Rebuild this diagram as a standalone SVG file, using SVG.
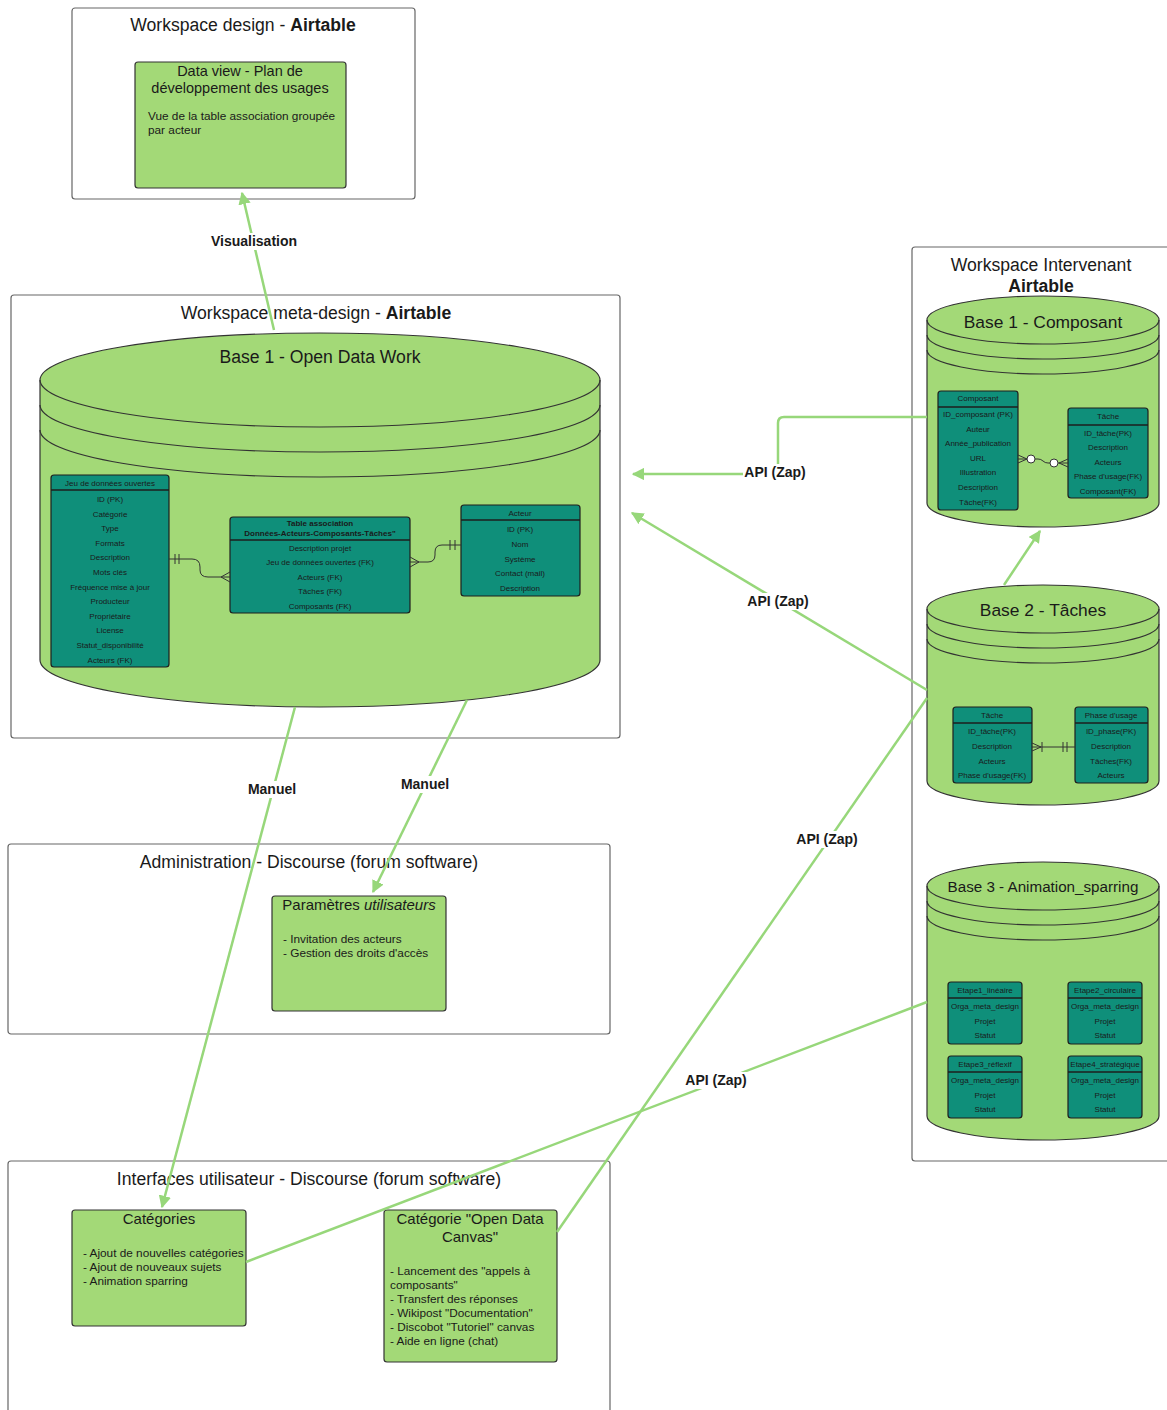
<svg xmlns="http://www.w3.org/2000/svg" width="1167" height="1410" viewBox="0 0 1167 1410">
<defs>
<style>
.cont{fill:#fff;stroke:#666;stroke-width:1.2}
.box{fill:#a3d977;stroke:#333;stroke-width:1.2}
.cyl{fill:#a3d977;stroke:#333;stroke-width:1.2}
.band{fill:none;stroke:#333;stroke-width:1.2}
.tbl{fill:#0f8f7a;stroke:#1e1e1e;stroke-width:1.2}
.sep{stroke:#1e1e1e;stroke-width:1.5}
.t{font-family:"Liberation Sans",Arial,sans-serif;fill:#1a1a1a}
.title{font-size:17.6px}
.cyt{font-size:17.4px}
.bt{font-size:14.5px}
.bb{font-size:11.8px}
.tt{font-size:8px;text-anchor:middle}
.lbl{font-size:14px;font-weight:bold;text-anchor:middle}
.g{fill:none;stroke:#97d77a;stroke-width:2.5}
.rel{fill:none;stroke:#333;stroke-width:1}
</style>
<marker id="ah" viewBox="0 0 10 10" refX="9" refY="5" markerWidth="5" markerHeight="5" orient="auto-start-reverse" markerUnits="strokeWidth">
<path d="M0,0 L10,5 L0,10 Z" fill="#97d77a"/>
</marker>
</defs>

<g id="ws-design">
<rect class="cont" x="72" y="8" width="343" height="191" rx="3"/>
<text class="t title" x="243" y="31" text-anchor="middle">Workspace design - <tspan font-weight="bold">Airtable</tspan></text>
</g>
<g id="dataview">
<rect class="box" x="135" y="62" width="211" height="126" rx="3"/>
<text class="t bt" x="240" y="76" text-anchor="middle">Data view - Plan de</text>
<text class="t bt" x="240" y="93" text-anchor="middle">développement des usages</text>
<text class="t bb" x="148" y="120">Vue de la table association groupée</text>
<text class="t bb" x="148" y="134">par acteur</text>
</g>

<g id="ws-meta">
<rect class="cont" x="11" y="295" width="609" height="443" rx="3"/>
<text class="t title" x="316" y="319" text-anchor="middle">Workspace meta-design - <tspan font-weight="bold">Airtable</tspan></text>
</g>

<g id="base1-odw">
<path class="cyl" d="M40,380 A280,47 0 0,1 600,380 V660 A280,47 0 0,1 40,660 Z"/>
<path class="band" d="M40,380 A280,47 0 0,0 600,380"/>
<path class="band" d="M40,405 A280,47 0 0,0 600,405"/>
<path class="band" d="M40,430 A280,47 0 0,0 600,430"/>
<text class="t" font-size="17.6" x="320" y="363" text-anchor="middle">Base 1 - Open Data Work</text>
</g>

<g id="tbl-jeu">
<rect class="tbl" x="51" y="475" width="118" height="192" rx="3"/>
<line class="sep" x1="51" y1="490" x2="169" y2="490"/>
<text class="t tt" x="110" y="486">Jeu de données ouvertes</text>
<text class="t tt" x="110" y="502">ID (PK)</text>
<text class="t tt" x="110" y="517">Catégorie</text>
<text class="t tt" x="110" y="531">Type</text>
<text class="t tt" x="110" y="546">Formats</text>
<text class="t tt" x="110" y="560">Description</text>
<text class="t tt" x="110" y="575">Mots clés</text>
<text class="t tt" x="110" y="590">Fréquence mise à jour</text>
<text class="t tt" x="110" y="604">Producteur</text>
<text class="t tt" x="110" y="619">Propriétaire</text>
<text class="t tt" x="110" y="633">License</text>
<text class="t tt" x="110" y="648">Statut_disponibilité</text>
<text class="t tt" x="110" y="663">Acteurs (FK)</text>
</g>

<g id="tbl-assoc">
<rect class="tbl" x="230" y="517" width="180" height="96" rx="3"/>
<line class="sep" x1="230" y1="540" x2="410" y2="540"/>
<text class="t tt" x="320" y="526" font-weight="bold">Table association</text>
<text class="t tt" x="320" y="536" font-weight="bold">Données-Acteurs-Composants-Tâches"</text>
<text class="t tt" x="320" y="551">Description projet</text>
<text class="t tt" x="320" y="565">Jeu de données ouvertes (FK)</text>
<text class="t tt" x="320" y="580">Acteurs (FK)</text>
<text class="t tt" x="320" y="594">Tâches (FK)</text>
<text class="t tt" x="320" y="609">Composants (FK)</text>
</g>

<g id="tbl-acteur">
<rect class="tbl" x="461" y="505" width="119" height="91" rx="3"/>
<line class="sep" x1="461" y1="520" x2="580" y2="520"/>
<text class="t tt" x="520" y="516">Acteur</text>
<text class="t tt" x="520" y="532">ID (PK)</text>
<text class="t tt" x="520" y="547">Nom</text>
<text class="t tt" x="520" y="562">Système</text>
<text class="t tt" x="520" y="576">Contact (mail)</text>
<text class="t tt" x="520" y="591">Description</text>
</g>

<g id="ws-intervenant">
<rect class="cont" x="912" y="247" width="270" height="914" rx="3"/>
<text class="t title" x="1041" y="271" text-anchor="middle">Workspace Intervenant</text>
<text class="t title" x="1041" y="292" text-anchor="middle" font-weight="bold">Airtable</text>
</g>

<g id="base1-composant">
<path class="cyl" d="M927,320 A116,24 0 0,1 1159,320 V503 A116,24 0 0,1 927,503 Z"/>
<path class="band" d="M927,320 A116,24 0 0,0 1159,320"/>
<path class="band" d="M927,335 A116,24 0 0,0 1159,335"/>
<path class="band" d="M927,350 A116,24 0 0,0 1159,350"/>
<text class="t cyt" x="1043" y="328" text-anchor="middle">Base 1 - Composant</text>
</g>

<g id="tbl-composant">
<rect class="tbl" x="938" y="391" width="80" height="119" rx="3"/>
<line class="sep" x1="938" y1="407" x2="1018" y2="407"/>
<text class="t tt" x="978" y="401">Composant</text>
<text class="t tt" x="978" y="417">ID_composant (PK)</text>
<text class="t tt" x="978" y="432">Auteur</text>
<text class="t tt" x="978" y="446">Année_publication</text>
<text class="t tt" x="978" y="461">URL</text>
<text class="t tt" x="978" y="475">Illustration</text>
<text class="t tt" x="978" y="490">Description</text>
<text class="t tt" x="978" y="505">Tâche(FK)</text>
</g>

<g id="tbl-tache1">
<rect class="tbl" x="1068" y="408" width="80" height="90" rx="3"/>
<line class="sep" x1="1068" y1="425" x2="1148" y2="425"/>
<text class="t tt" x="1108" y="419">Tâche</text>
<text class="t tt" x="1108" y="436">ID_tâche(PK)</text>
<text class="t tt" x="1108" y="450">Description</text>
<text class="t tt" x="1108" y="465">Acteurs</text>
<text class="t tt" x="1108" y="479">Phase d'usage(FK)</text>
<text class="t tt" x="1108" y="494">Composant(FK)</text>
</g>

<g id="base2-taches">
<path class="cyl" d="M927,609 A116,24 0 0,1 1159,609 V781 A116,24 0 0,1 927,781 Z"/>
<path class="band" d="M927,609 A116,24 0 0,0 1159,609"/>
<path class="band" d="M927,624 A116,24 0 0,0 1159,624"/>
<path class="band" d="M927,639 A116,24 0 0,0 1159,639"/>
<text class="t cyt" x="1043" y="616" text-anchor="middle">Base 2 - Tâches</text>
</g>

<g id="tbl-tache2">
<rect class="tbl" x="953" y="707" width="79" height="76" rx="3"/>
<line class="sep" x1="953" y1="723" x2="1032" y2="723"/>
<text class="t tt" x="992" y="718">Tâche</text>
<text class="t tt" x="992" y="734">ID_tâche(PK)</text>
<text class="t tt" x="992" y="749">Description</text>
<text class="t tt" x="992" y="764">Acteurs</text>
<text class="t tt" x="992" y="778">Phase d'usage(FK)</text>
</g>

<g id="tbl-phase">
<rect class="tbl" x="1075" y="707" width="73" height="76" rx="3"/>
<line class="sep" x1="1075" y1="723" x2="1148" y2="723"/>
<text class="t tt" x="1111" y="718">Phase d'usage</text>
<text class="t tt" x="1111" y="734">ID_phase(PK)</text>
<text class="t tt" x="1111" y="749">Description</text>
<text class="t tt" x="1111" y="764">Tâches(FK)</text>
<text class="t tt" x="1111" y="778">Acteurs</text>
</g>

<g id="base3-animation">
<path class="cyl" d="M927,886 A116,24 0 0,1 1159,886 V1116 A116,24 0 0,1 927,1116 Z"/>
<path class="band" d="M927,886 A116,24 0 0,0 1159,886"/>
<path class="band" d="M927,901 A116,24 0 0,0 1159,901"/>
<path class="band" d="M927,916 A116,24 0 0,0 1159,916"/>
<text class="t" font-size="15.2" x="1043" y="892" text-anchor="middle">Base 3 - Animation_sparring</text>
</g>

<g id="tbl-etape1">
<rect class="tbl" x="948" y="982" width="74" height="62" rx="3"/>
<line class="sep" x1="948" y1="998" x2="1022" y2="998"/>
<text class="t tt" x="985" y="993">Etape1_linéaire</text>
<text class="t tt" x="985" y="1009">Orga_meta_design</text>
<text class="t tt" x="985" y="1024">Projet</text>
<text class="t tt" x="985" y="1038">Statut</text>
</g>
<g id="tbl-etape2">
<rect class="tbl" x="1068" y="982" width="74" height="62" rx="3"/>
<line class="sep" x1="1068" y1="998" x2="1142" y2="998"/>
<text class="t tt" x="1105" y="993">Etape2_circulaire</text>
<text class="t tt" x="1105" y="1009">Orga_meta_design</text>
<text class="t tt" x="1105" y="1024">Projet</text>
<text class="t tt" x="1105" y="1038">Statut</text>
</g>
<g id="tbl-etape3">
<rect class="tbl" x="948" y="1056" width="74" height="62" rx="3"/>
<line class="sep" x1="948" y1="1072" x2="1022" y2="1072"/>
<text class="t tt" x="985" y="1067">Etape3_réflexif</text>
<text class="t tt" x="985" y="1083">Orga_meta_design</text>
<text class="t tt" x="985" y="1098">Projet</text>
<text class="t tt" x="985" y="1112">Statut</text>
</g>
<g id="tbl-etape4">
<rect class="tbl" x="1068" y="1056" width="74" height="62" rx="3"/>
<line class="sep" x1="1068" y1="1072" x2="1142" y2="1072"/>
<text class="t tt" x="1105" y="1067">Etape4_stratégique</text>
<text class="t tt" x="1105" y="1083">Orga_meta_design</text>
<text class="t tt" x="1105" y="1098">Projet</text>
<text class="t tt" x="1105" y="1112">Statut</text>
</g>

<g id="ws-admin">
<rect class="cont" x="8" y="844" width="602" height="190" rx="3"/>
<text class="t title" x="309" y="868" text-anchor="middle">Administration - Discourse (forum software)</text>
</g>
<g id="parametres">
<rect class="box" x="272" y="896" width="174" height="115" rx="3"/>
<text class="t" font-size="15" x="359" y="910" text-anchor="middle">Paramètres <tspan font-style="italic">utilisateurs</tspan></text>
<text class="t bb" x="283" y="943">- Invitation des acteurs</text>
<text class="t bb" x="283" y="957">- Gestion des droits d'accès</text>
</g>

<g id="ws-interfaces">
<rect class="cont" x="8" y="1161" width="602" height="270" rx="3"/>
<text class="t title" x="309" y="1185" text-anchor="middle">Interfaces utilisateur - Discourse (forum software)</text>
</g>
<g id="categories">
<rect class="box" x="72" y="1210" width="174" height="116" rx="3"/>
<text class="t" font-size="15" x="159" y="1224" text-anchor="middle">Catégories</text>
<text class="t bb" x="83" y="1257">- Ajout de nouvelles catégories</text>
<text class="t bb" x="83" y="1271">- Ajout de nouveaux sujets</text>
<text class="t bb" x="83" y="1285">- Animation sparring</text>
</g>
<g id="odc">
<rect class="box" x="384" y="1210" width="173" height="152" rx="3"/>
<text class="t" font-size="15" x="470" y="1224" text-anchor="middle">Catégorie "Open Data</text>
<text class="t" font-size="15" x="470" y="1242" text-anchor="middle">Canvas"</text>
<text class="t bb" x="390" y="1275">- Lancement des "appels à</text>
<text class="t bb" x="390" y="1289">composants"</text>
<text class="t bb" x="390" y="1303">- Transfert des réponses</text>
<text class="t bb" x="390" y="1317">- Wikipost "Documentation"</text>
<text class="t bb" x="390" y="1331">- Discobot "Tutoriel" canvas</text>
<text class="t bb" x="390" y="1345">- Aide en ligne (chat)</text>
</g>

<g id="connectors">
<path class="rel" d="M169,559 H192 Q200,559 200,567 V570 Q200,577 208,577 H230"/>
<path class="rel" d="M175,554 V564 M179,554 V564"/>
<path class="rel" d="M230,572 L221,577 L230,582"/>
<path class="rel" d="M410,562 H428 Q435,562 435,555 V552 Q435,545 442,545 H461"/>
<path class="rel" d="M410,557 L419,562 L410,567"/>
<path class="rel" d="M450,540 V550 M455,540 V550"/>
<path class="rel" d="M1018,459 H1038 Q1041,459 1043,461 Q1045,463 1048,463 H1068"/>
<path class="rel" d="M1018,455 L1027,459 L1018,463"/>
<circle cx="1031" cy="459" r="4" fill="#fff" stroke="#333"/>
<path class="rel" d="M1068,459 L1059,463 L1068,467"/>
<circle cx="1054" cy="463" r="4" fill="#fff" stroke="#333"/>
<path class="rel" d="M1032,747 H1075"/>
<path class="rel" d="M1032,743 L1041,747 L1032,751"/>
<path class="rel" d="M1042,742 V752"/>
<path class="rel" d="M1063,742 V752 M1067,742 V752"/>

<path class="g" d="M274,330 L242,193" marker-end="url(#ah)"/>
<path class="g" d="M295,707 L162,1207" marker-end="url(#ah)"/>
<path class="g" d="M467,700 L373,892" marker-end="url(#ah)"/>
<path class="g" d="M927,417 H784 Q778,417 778,423 V474 H633" marker-end="url(#ah)"/>
<path class="g" d="M927,690 L632,513" marker-end="url(#ah)"/>
<path class="g" d="M1004,585 L1040,531" marker-end="url(#ah)"/>
<path class="g" d="M927,698 L557,1232"/>
<path class="g" d="M927,1002 L246,1262"/>

<g class="labels">
<rect x="207" y="233" width="94" height="17" fill="#fff"/>
<text class="t lbl" x="254" y="246">Visualisation</text>
<rect x="244" y="781" width="56" height="17" fill="#fff"/>
<text class="t lbl" x="272" y="794">Manuel</text>
<rect x="397" y="776" width="56" height="17" fill="#fff"/>
<text class="t lbl" x="425" y="789">Manuel</text>
<rect x="743" y="464" width="65" height="17" fill="#fff"/>
<text class="t lbl" x="775" y="477">API (Zap)</text>
<rect x="745" y="593" width="65" height="17" fill="#fff"/>
<text class="t lbl" x="778" y="606">API (Zap)</text>
<rect x="794" y="831" width="65" height="17" fill="#fff"/>
<text class="t lbl" x="827" y="844">API (Zap)</text>
<rect x="683" y="1072" width="65" height="17" fill="#fff"/>
<text class="t lbl" x="716" y="1085">API (Zap)</text>
</g>
</g>
</svg>
